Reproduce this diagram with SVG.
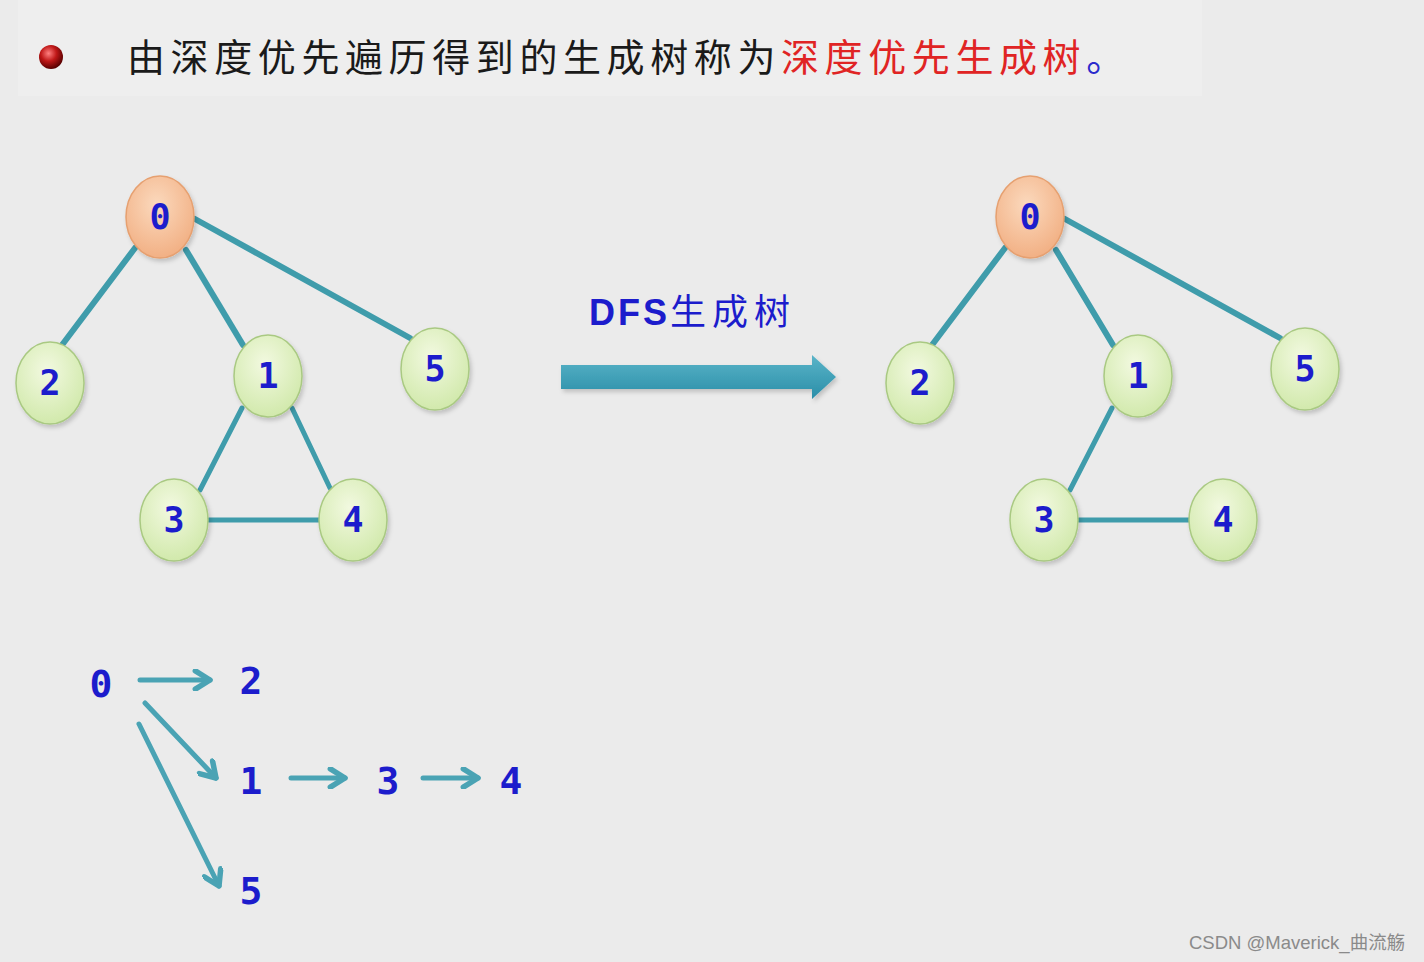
<svg xmlns="http://www.w3.org/2000/svg" width="1424" height="962" viewBox="0 0 1424 962">
<defs>
<radialGradient id="gG" cx="45%" cy="35%" r="70%">
<stop offset="0" stop-color="#f2f9e0"/><stop offset="1" stop-color="#cfe8a8"/>
</radialGradient>
<radialGradient id="gO" cx="45%" cy="35%" r="70%">
<stop offset="0" stop-color="#fbd9bd"/><stop offset="1" stop-color="#f1ad80"/>
</radialGradient>
<radialGradient id="gB" cx="40%" cy="35%" r="65%">
<stop offset="0" stop-color="#ff8080"/><stop offset="0.5" stop-color="#c01818"/><stop offset="1" stop-color="#5a0000"/>
</radialGradient>
<linearGradient id="gA" x1="0" y1="0" x2="0" y2="1">
<stop offset="0" stop-color="#5ab4c8"/><stop offset="1" stop-color="#2a8ea8"/>
</linearGradient>
<filter id="sh" x="-30%" y="-30%" width="160%" height="160%">
<feDropShadow dx="2" dy="3" stdDeviation="2" flood-color="#000" flood-opacity="0.18"/>
</filter>
<marker id="ah" viewBox="0 0 12 12" refX="10" refY="6" markerWidth="4.4" markerHeight="4.4" orient="auto" markerUnits="strokeWidth">
<path d="M2,1 L10,6 L2,11" fill="none" stroke="#4aa3b4" stroke-width="3" stroke-linecap="round" stroke-linejoin="round"/>
</marker>
<style>
.e{stroke:#3f9cab;stroke-width:6;stroke-linecap:round;fill:none}
.e2{stroke:#3f9cab;stroke-width:5;stroke-linecap:round;fill:none}
.g{fill:url(#gG);stroke:#a9c982;stroke-width:1.5;filter:url(#sh)}
.o{fill:url(#gO);stroke:#e6a070;stroke-width:1.5;filter:url(#sh)}
.n{font-family:"DejaVu Sans Mono","Liberation Mono",monospace;font-weight:bold;font-size:35px;fill:#1c1ccc;text-anchor:middle}
.s{font-family:"DejaVu Sans Mono","Liberation Mono",monospace;font-weight:bold;font-size:38px;fill:#1c1ccc;text-anchor:middle}
.a{stroke:#4aa3b4;stroke-width:5;stroke-linecap:round;fill:none;marker-end:url(#ah)}
.t{font-family:"Noto Sans CJK SC","Liberation Sans",sans-serif;font-size:38px;letter-spacing:5.6px}
</style>
</defs>
<rect width="1424" height="962" fill="#ebebeb"/>
<rect x="18" y="0" width="1184" height="96" fill="#eeeeee"/>
<circle cx="51" cy="57" r="12" fill="url(#gB)"/>
<text class="t" x="127" y="71"><tspan fill="#1a1a1a">由深度优先遍历得到的生成树称为</tspan><tspan fill="#e02424">深度优先生成树</tspan><tspan fill="#2a2acc">。</tspan></text>

<g id="connectors">
<line class="e" x1="135" y1="248" x2="62" y2="345"/>
<line class="e" x1="186" y1="250" x2="243" y2="345"/>
<line class="e" x1="195" y1="219" x2="410" y2="338"/>
<line class="e2" x1="242" y1="408" x2="200" y2="490"/>
<line class="e2" x1="292" y1="408" x2="330" y2="488"/>
<line class="e2" x1="209" y1="520" x2="320" y2="520"/>

<line class="e" x1="1005" y1="248" x2="932" y2="345"/>
<line class="e" x1="1056" y1="250" x2="1113" y2="345"/>
<line class="e" x1="1065" y1="219" x2="1280" y2="338"/>
<line class="e2" x1="1112" y1="408" x2="1070" y2="490"/>
<line class="e2" x1="1079" y1="520" x2="1190" y2="520"/>

<path d="M561,365 L812,365 L812,355 L836,377 L812,399 L812,389 L561,389 Z" fill="url(#gA)" filter="url(#sh)"/>

<line class="a" x1="140" y1="680" x2="210" y2="680"/>
<line class="a" x1="145" y1="703" x2="216" y2="778"/>
<line class="a" x1="139" y1="724" x2="219" y2="886"/>
<line class="a" x1="291" y1="778" x2="345" y2="778"/>
<line class="a" x1="423" y1="778" x2="478" y2="778"/>
</g>

<g id="L0"><ellipse class="o" cx="160" cy="217" rx="34" ry="41"/><text class="n" x="160" y="229">0</text></g>
<g id="L2"><ellipse class="g" cx="50" cy="383" rx="34" ry="41"/><text class="n" x="50" y="395">2</text></g>
<g id="L1"><ellipse class="g" cx="268" cy="376" rx="34" ry="41"/><text class="n" x="268" y="388">1</text></g>
<g id="L5"><ellipse class="g" cx="435" cy="369" rx="34" ry="41"/><text class="n" x="435" y="381">5</text></g>
<g id="L3"><ellipse class="g" cx="174" cy="520" rx="34" ry="41"/><text class="n" x="174" y="532">3</text></g>
<g id="L4"><ellipse class="g" cx="353" cy="520" rx="34" ry="41"/><text class="n" x="353" y="532">4</text></g>

<g id="R0"><ellipse class="o" cx="1030" cy="217" rx="34" ry="41"/><text class="n" x="1030" y="229">0</text></g>
<g id="R2"><ellipse class="g" cx="920" cy="383" rx="34" ry="41"/><text class="n" x="920" y="395">2</text></g>
<g id="R1"><ellipse class="g" cx="1138" cy="376" rx="34" ry="41"/><text class="n" x="1138" y="388">1</text></g>
<g id="R5"><ellipse class="g" cx="1305" cy="369" rx="34" ry="41"/><text class="n" x="1305" y="381">5</text></g>
<g id="R3"><ellipse class="g" cx="1044" cy="520" rx="34" ry="41"/><text class="n" x="1044" y="532">3</text></g>
<g id="R4"><ellipse class="g" cx="1223" cy="520" rx="34" ry="41"/><text class="n" x="1223" y="532">4</text></g>

<text x="589" y="325" font-family="'Liberation Sans','Noto Sans CJK SC',sans-serif" font-size="36" fill="#1c1ccc"><tspan font-weight="bold" letter-spacing="3">DFS</tspan><tspan font-family="'Noto Sans CJK SC',sans-serif" letter-spacing="6">生成树</tspan></text>

<g id="seq">
<text class="s" x="101" y="697">0</text>
<text class="s" x="251" y="694">2</text>
<text class="s" x="251" y="794">1</text>
<text class="s" x="388" y="794">3</text>
<text class="s" x="511" y="794">4</text>
<text class="s" x="251" y="904">5</text>
</g>

<text x="1189" y="949" font-family="'Liberation Sans','Noto Sans CJK SC',sans-serif" font-size="18.5" fill="#8a8a8a">CSDN @Maverick_曲流觞</text>
</svg>
